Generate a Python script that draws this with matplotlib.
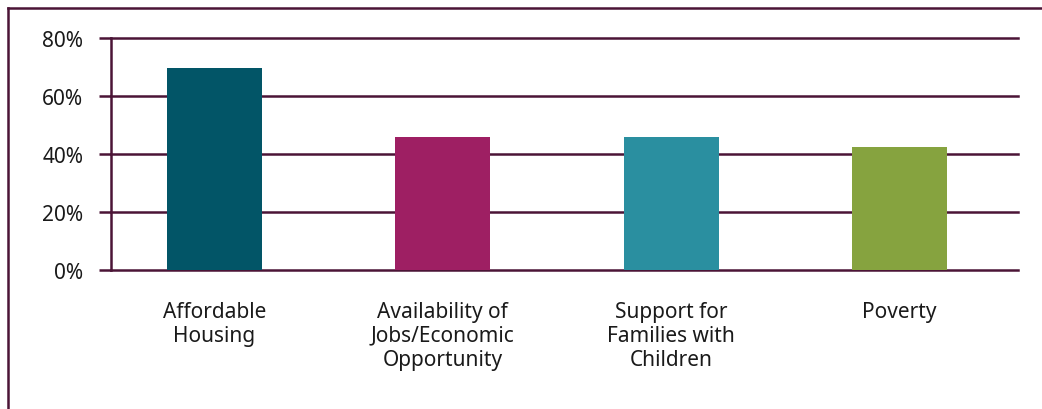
import matplotlib
matplotlib.use("Agg")
import matplotlib.pyplot as plt
from matplotlib.lines import Line2D

categories = ["Affordable\nHousing", "Availability of\nJobs/Economic\nOpportunity",
              "Support for\nFamilies with\nChildren", "Poverty"]
values = [69.5, 46, 46, 42.5]
colors = ["#025567", "#9e1f63", "#2a8fa0", "#86a33f"]
yticks = [0, 20, 40, 60, 80]

plum = "#4b1436"
plt.rcParams['font.family'] = ['Noto Sans', 'DejaVu Sans']

W, H = 1042, 410
fig = plt.figure(figsize=(W / 100, H / 100), dpi=100)
ax = fig.add_axes([111 / W, (H - 271) / H, (1018 - 111) / W, (271 - 39) / H])

x = range(len(values))
ax.bar(x, values, width=0.416, color=colors, zorder=3)

ax.set_ylim(0, 80)
ax.set_xlim(-0.453, 3.519)
ax.set_yticks(yticks)
ax.set_yticklabels([f"{t}%" for t in yticks], fontsize=15, color="#1a1a1a")
ax.yaxis.grid(True, color=plum, linewidth=1.8, zorder=1)
for gl in ax.get_ygridlines():
    gl.set_clip_on(False)
ax.tick_params(axis="y", length=9, width=1.8, color=plum, pad=11)
ax.set_xticks(list(x))
ax.set_xticklabels(categories, fontsize=15, color="#1a1a1a", linespacing=1.2)
ax.tick_params(axis="x", length=0, pad=22)

for s in ["top", "right", "bottom"]:
    ax.spines[s].set_visible(False)
ax.spines["left"].set_color(plum)
ax.spines["left"].set_linewidth(1.8)

# outer frame: left and top edges only
fig.add_artist(Line2D([8 / W, 8 / W], [0, (H - 9) / H], color=plum, linewidth=1.8))
fig.add_artist(Line2D([8 / W, 1], [(H - 9) / H, (H - 9) / H], color=plum, linewidth=1.8))

fig.savefig("out.png", dpi=100)
